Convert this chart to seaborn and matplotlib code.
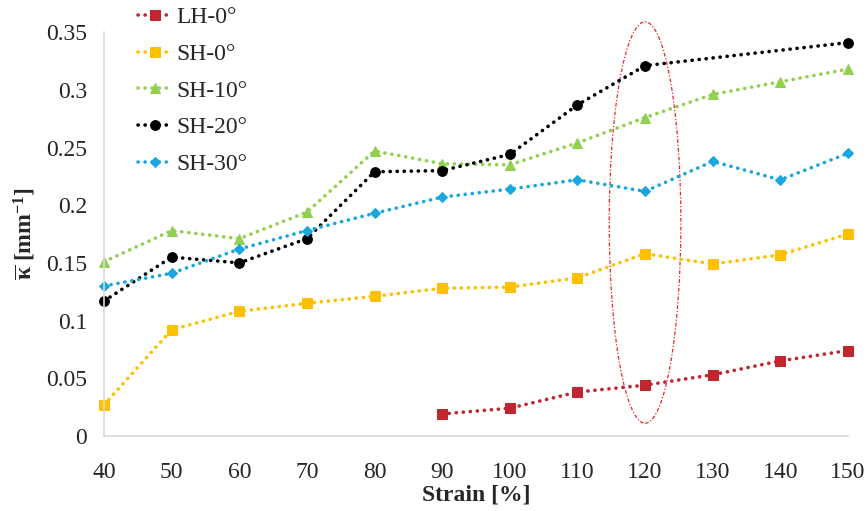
import numpy as np
import pandas as pd
import matplotlib
matplotlib.use('Agg')
import matplotlib.pyplot as plt
import seaborn as sns
from matplotlib.patches import Ellipse
from matplotlib.ticker import FuncFormatter

# data
strain = [40, 50, 60, 70, 80, 90, 100, 110, 120, 130, 140, 150]
lh_0 = [None, None, None, None, None, 0.019, 0.024, 0.038, 0.044, 0.053, 0.065, 0.074]
sh_0 = [0.027, 0.092, 0.108, 0.115, 0.121, 0.128, 0.129, 0.137, 0.158, 0.149, 0.157, 0.175]
sh_10 = [0.151, 0.178, 0.171, 0.194, 0.247, 0.236, 0.235, 0.254, 0.276, 0.296, 0.307, 0.318]
sh_20 = [0.117, 0.155, 0.150, 0.171, 0.229, 0.230, 0.244, 0.287, 0.321, None, None, 0.341]
sh_30 = [0.130, 0.141, 0.162, 0.178, 0.193, 0.207, 0.214, 0.222, 0.212, 0.238, 0.222, 0.245]

series_names = ['LH-0°', 'SH-0°', 'SH-10°', 'SH-20°', 'SH-30°']
series_values = [lh_0, sh_0, sh_10, sh_20, sh_30]
colors = ['#C0262D', '#FFC000', '#92D050', '#000000', '#1AA7E0']
markers = ['s', 's', '^', 'o', 'D']
marker_sizes = [6.5, 6.5, 6.5, 7, 5]

# highlighted region around 120 %
ellipse_center = (120, 0.185)
ellipse_width = 10.6
ellipse_height = 0.348

rows = []
for name, vals in zip(series_names, series_values):
    for s, v in zip(strain, vals):
        if v is not None:
            rows.append({'Strain': s, 'kappa': v, 'Series': name})
df = pd.DataFrame(rows)

sns.set_style('white')
plt.rcParams['font.family'] = ['Liberation Serif', 'DejaVu Serif']
plt.rcParams['mathtext.fontset'] = 'custom'
plt.rcParams['mathtext.rm'] = 'Liberation Serif:bold'
plt.rcParams['mathtext.it'] = 'Liberation Serif:bold'
plt.rcParams['mathtext.bf'] = 'Liberation Serif:bold'

fig, ax = plt.subplots(figsize=(8.67, 5.11), dpi=100)
fig.subplots_adjust(left=0.12, right=0.978, bottom=0.147, top=0.937)

for name, color, mk, ms in zip(series_names, colors, markers, marker_sizes):
    sub = df[df['Series'] == name]
    sns.lineplot(x='Strain', y='kappa', data=sub, ax=ax, color=color, marker=mk,
                 markersize=ms, markeredgecolor=color, linestyle=(0, (0.05, 1.9)),
                 linewidth=2.6, dash_capstyle='round', label=name, clip_on=False,
                 estimator=None, sort=True)

ax.add_patch(Ellipse(ellipse_center, ellipse_width, ellipse_height, fill=False,
                     edgecolor='#E8262E', linewidth=0.9, linestyle=(0, (3, 1.5, 1, 1.5)),
                     clip_on=False))

ax.set_xlim(40, 150)
ax.set_ylim(0, 0.35)
ax.set_xticks(strain)
ax.set_yticks(np.arange(0, 0.351, 0.05))
ax.yaxis.set_major_formatter(FuncFormatter(lambda v, p: f'{v:g}'))
ax.tick_params(length=0, labelsize=17)
ax.tick_params(axis='y', pad=12)
ax.tick_params(axis='x', pad=19)

for side in ['top', 'right']:
    ax.spines[side].set_visible(False)
for side in ['left', 'bottom']:
    ax.spines[side].set_color('#D9D9D9')
    ax.spines[side].set_linewidth(1.2)

ax.set_xlabel('Strain [%]', fontsize=17, fontweight='bold', labelpad=1)
ax.set_ylabel(r'$\overline{\mathrm{κ}}$ [mm$^{\mathrm{-1}}$]', fontsize=17,
              fontweight='bold', labelpad=6)

ax.legend(loc='upper left', bbox_to_anchor=(0.148, 1.005), bbox_transform=fig.transFigure,
          frameon=False, fontsize=17, labelspacing=0.64, handlelength=1.5,
          handletextpad=0.15, borderaxespad=0)

plt.savefig('out.png', dpi=100)
